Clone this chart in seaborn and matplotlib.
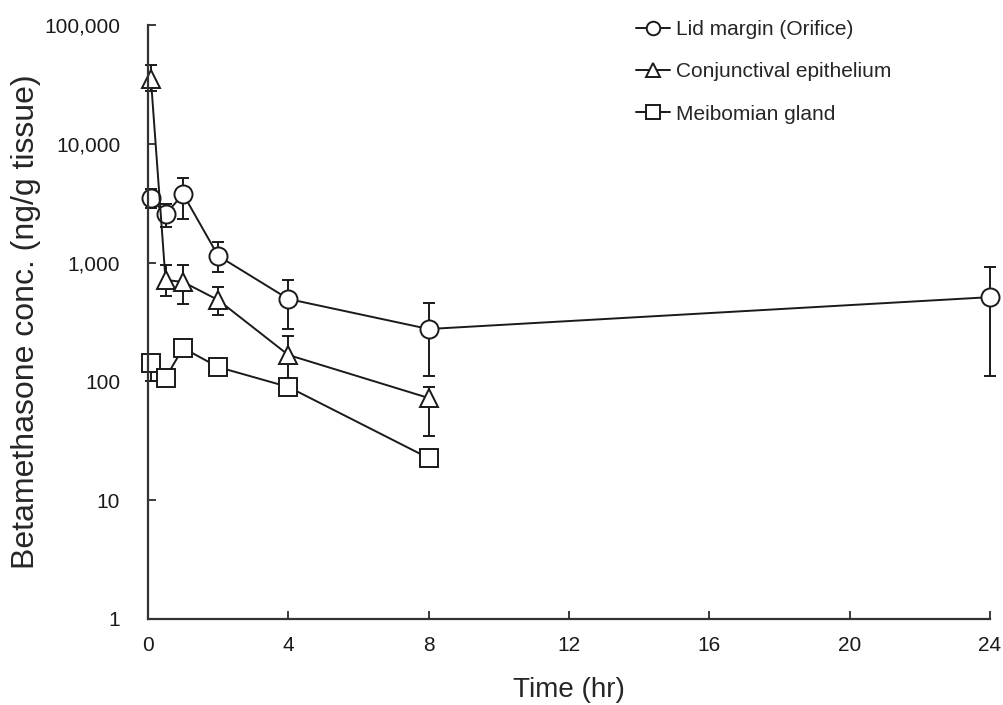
import numpy as np
import pandas as pd
import matplotlib
matplotlib.use("Agg")
import matplotlib.pyplot as plt
import seaborn as sns
from matplotlib.ticker import FixedLocator, FuncFormatter, NullLocator

# ---- data ----
series_names = ["Lid margin (Orifice)", "Conjunctival epithelium", "Meibomian gland"]

time_lid = [0.083, 0.5, 1, 2, 4, 8, 24]
lid_mean = [3500, 2550, 3780, 1140, 494, 276, 512]
lid_err_lo = [620, 550, 1450, 310, 220, 165, 400]
lid_err_hi = [700, 560, 1370, 350, 220, 180, 400]

time_conj = [0.083, 0.5, 1, 2, 4, 8]
conj_mean = [35100, 714, 687, 484, 167, 72.5]
conj_err_lo = [7300, 190, 240, 120, 74, 38]
conj_err_hi = [10900, 240, 270, 140, 74, 17]

time_meib = [0.083, 0.5, 1, 2, 4, 8]
meib_mean = [143, 107, 191, 132, 89.8, 22.6]
meib_err_lo = [43, 8, 10, 10, 5, 2]
meib_err_hi = [10, 8, 10, 10, 5, 2]

x_ticks = [0, 4, 8, 12, 16, 20, 24]
y_ticks = [1, 10, 100, 1000, 10000, 100000]

# ---- build long table ----
frames = []
for name, t, m in zip(series_names, [time_lid, time_conj, time_meib],
                      [lid_mean, conj_mean, meib_mean]):
    frames.append(pd.DataFrame({"time": t, "conc": m, "tissue": name}))
df = pd.concat(frames, ignore_index=True)

sns.set_style("ticks")
plt.rcParams["font.family"] = ["Liberation Sans", "DejaVu Sans"]

fig = plt.figure(figsize=(10.04, 7.05), dpi=100)
ax = fig.add_axes([148 / 1004, 1 - 619 / 705, (990 - 148) / 1004, (619 - 25) / 705])

# error bars (behind markers)
for t, m, lo, hi in [(time_lid, lid_mean, lid_err_lo, lid_err_hi),
                     (time_conj, conj_mean, conj_err_lo, conj_err_hi),
                     (time_meib, meib_mean, meib_err_lo, meib_err_hi)]:
    eb = ax.errorbar(t, m, yerr=[lo, hi], fmt="none", ecolor="#1a1a1a",
                     elinewidth=1.4, capsize=4, capthick=1.4, zorder=1)
    for art in list(eb.lines[1]) + list(eb.lines[2]):
        art.set_clip_on(False)

markers = {series_names[0]: "o", series_names[1]: "^", series_names[2]: "s"}
sns.lineplot(data=df, x="time", y="conc", hue="tissue", style="tissue",
             hue_order=series_names, style_order=series_names,
             palette=["#1a1a1a"] * 3, markers=markers, dashes=False,
             markersize=13, markerfacecolor="white", markeredgecolor="#1a1a1a",
             markeredgewidth=1.4, linewidth=1.4, ax=ax, zorder=2,
             legend=True)
for ln in ax.lines:
    ln.set_clip_on(False)
for coll in ax.collections:
    coll.set_clip_on(False)

ax.set_yscale("log")
ax.set_ylim(1, 100000)
ax.set_xlim(0, 24)
ax.yaxis.set_major_locator(FixedLocator(y_ticks))
ax.yaxis.set_minor_locator(NullLocator())
ax.yaxis.set_major_formatter(FuncFormatter(lambda v, p: f"{int(round(v)):,}"))
ax.xaxis.set_major_locator(FixedLocator(x_ticks))
ax.tick_params(axis="both", direction="in", length=6, width=1.2,
               labelsize=15, colors="#1a1a1a")
ax.tick_params(axis="x", pad=12)
ax.tick_params(axis="y", pad=20)

for s in ["top", "right"]:
    ax.spines[s].set_visible(False)
for s in ["left", "bottom"]:
    ax.spines[s].set_linewidth(1.6)
    ax.spines[s].set_color("#333333")

ax.set_xlabel("Time (hr)", fontsize=20, labelpad=16)
ax.set_ylabel("Betamethasone conc. (ng/g tissue)", fontsize=23, labelpad=2)

leg = ax.legend(title=None, frameon=False, loc="upper right",
                bbox_to_anchor=(0.905, 1.04), fontsize=15,
                handlelength=1.6, handletextpad=0.3, labelspacing=1.12,
                markerscale=0.75)

fig.savefig("out.png", dpi=100)
